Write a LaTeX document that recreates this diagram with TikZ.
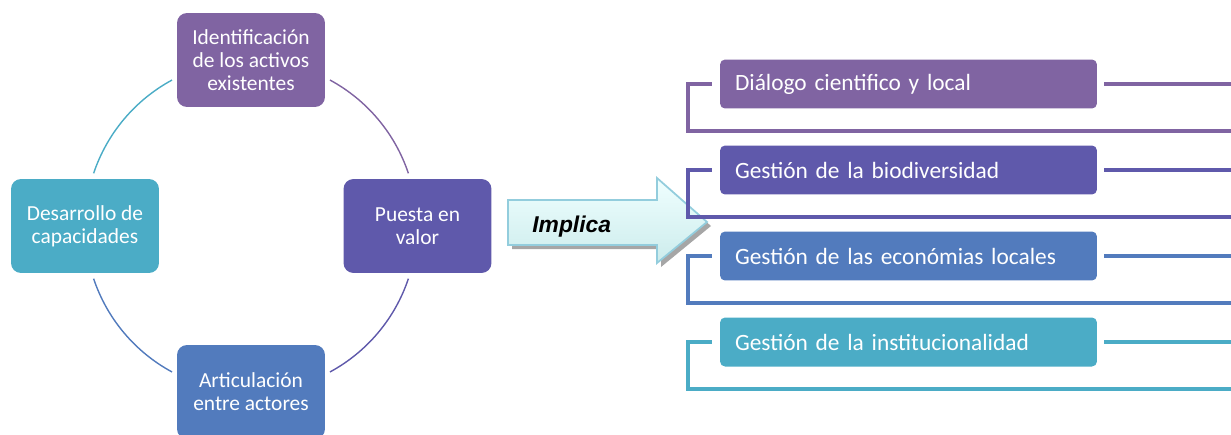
\documentclass[tikz,border=0pt]{standalone}
\usepackage{fontspec}
\setmainfont{Carlito}
\newfontfamily\flechafont{Liberation Sans}
\usepackage{tikz}
\usetikzlibrary{calc}
\definecolor{lila}{HTML}{8064A2}
\definecolor{indigo}{HTML}{5F59AB}
\definecolor{azul}{HTML}{527BBD}
\definecolor{turquesa}{HTML}{4BACC6}
\definecolor{borde}{HTML}{93CDDD}

\tikzset{
  ciclo/.style={rounded corners=0.2cm, minimum width=2.96cm, minimum height=1.88cm, inner sep=0pt, text=white, align=center, font=\fontsize{12.2}{13.1}\selectfont},
  tarea/.style={rounded corners=0.1cm, minimum width=7.54cm, minimum height=0.98cm, text width=6.94cm, inner xsep=0.3cm, text=white, align=left, font=\fontsize{13.3}{15}\selectfont},
  arco/.style={line width=0.8pt},
  corchete/.style={line width=2pt}
}

\begin{document}
\begin{tikzpicture}[x=0.02cm, y=0.02cm]
\useasboundingbox (0,0) rectangle (1231,434);

% cycle
\coordinate (centro) at (251,208);
\node [ciclo, fill=lila] (ident) at (251,374) {Identificación\\de los activos\\existentes};
\node [ciclo, fill=indigo] (puesta) at (417.5,208) {Puesta en\\valor};
\node [ciclo, fill=azul] (artic) at (251,42) {Articulación\\entre actores};
\node [ciclo, fill=turquesa] (desarr) at (85,208) {Desarrollo de\\capacidades};
\draw [arco, lila] (centro) ++(61.6:3.32cm) arc [start angle=61.6, end angle=18.5, radius=3.32cm];
\draw [arco, indigo] (centro) ++(-18.5:3.32cm) arc [start angle=-18.5, end angle=-61.6, radius=3.32cm];
\draw [arco, azul] (centro) ++(-118.4:3.32cm) arc [start angle=-118.4, end angle=-161.5, radius=3.32cm];
\draw [arco, turquesa] (centro) ++(161.5:3.32cm) arc [start angle=161.5, end angle=118.4, radius=3.32cm];

% arrow
\fill [black!35, shift={(4,-4)}] (508,189) -- (657,189) -- (657,171) -- (707,212) -- (657,256) -- (657,234) -- (508,234) -- cycle;
\draw [borde, line width=1pt, top color=cyan!6, bottom color=cyan!25!teal!20] (508,189) -- (657,189) -- (657,171) -- (707,212) -- (657,256) -- (657,234) -- (508,234) -- cycle;
\node [anchor=base west, inner sep=0pt, font=\flechafont\bfseries\itshape\fontsize{13}{15}\selectfont] (implica) at (532,202) {Implica};

% list
\node [tarea, fill=lila] (dialogo) at (908.5,350) {Diálogo cientifico y local};
\node [tarea, fill=indigo] (biodiv) at (908.5,264) {Gestión de la biodiversidad};
\node [tarea, fill=azul] (econom) at (908.5,178) {Gestión de las económias locales};
\node [tarea, fill=turquesa] (instit) at (908.5,92) {Gestión de la institucionalidad};

\draw [corchete, lila] ([xshift=-0.16cm]dialogo.west) -- (688,350) -- (688,303) -- (1240,303);
\draw [corchete, lila] ([xshift=0.14cm]dialogo.east) -- (1240,350);
\draw [corchete, indigo] ([xshift=-0.16cm]biodiv.west) -- (688,264) -- (688,217) -- (1240,217);
\draw [corchete, indigo] ([xshift=0.14cm]biodiv.east) -- (1240,264);
\draw [corchete, azul] ([xshift=-0.16cm]econom.west) -- (688,178) -- (688,131) -- (1240,131);
\draw [corchete, azul] ([xshift=0.14cm]econom.east) -- (1240,178);
\draw [corchete, turquesa] ([xshift=-0.16cm]instit.west) -- (688,92) -- (688,45) -- (1240,45);
\draw [corchete, turquesa] ([xshift=0.14cm]instit.east) -- (1240,92);

\end{tikzpicture}
\end{document}
